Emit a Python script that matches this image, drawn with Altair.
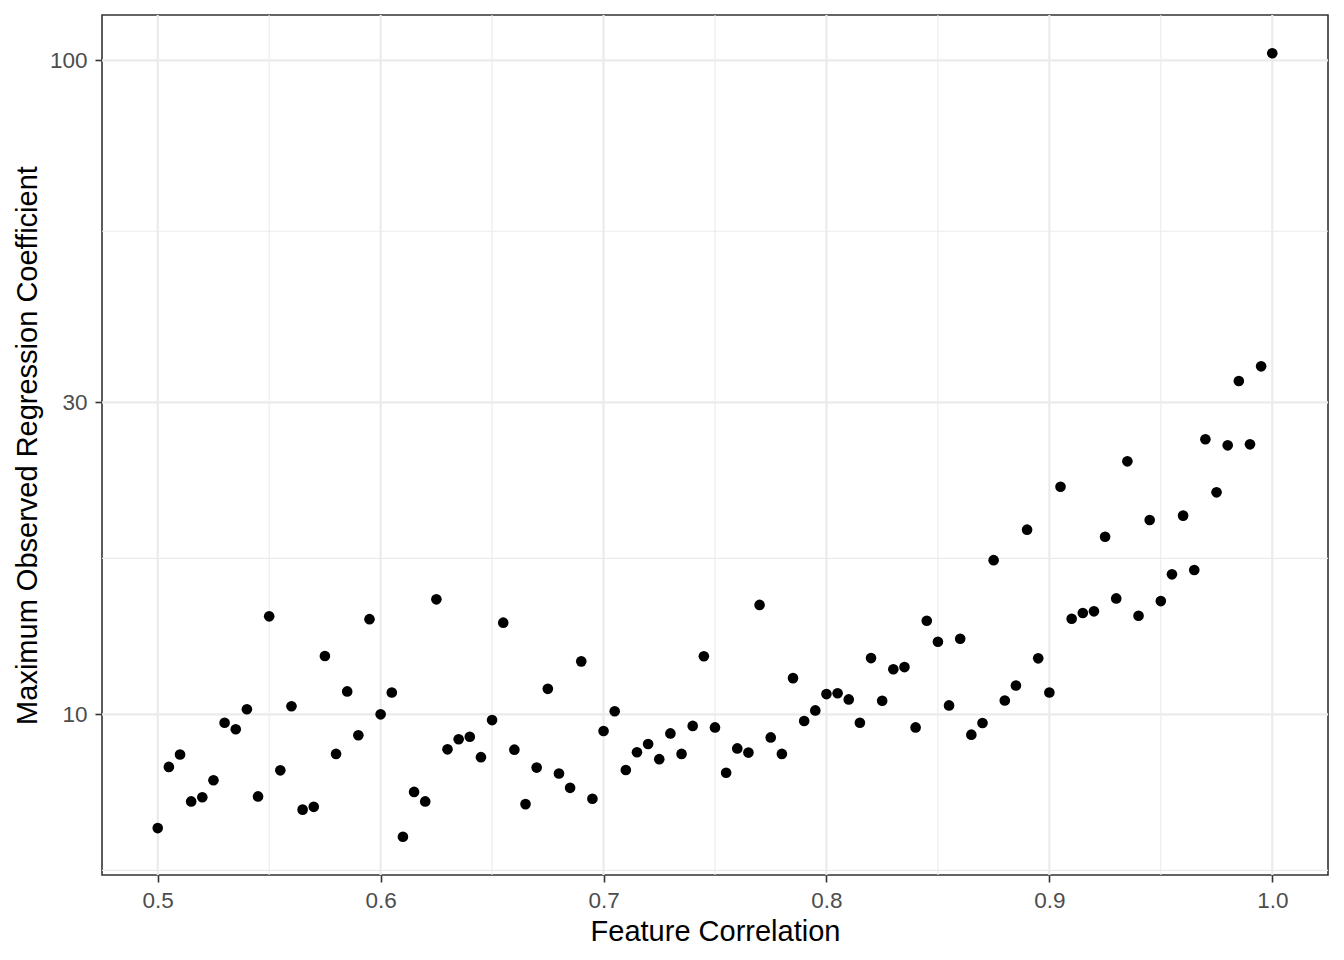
import altair as alt
import pandas as pd

# Feature correlation (x) values
correlation = [
    0.500, 0.505, 0.510, 0.515, 0.520, 0.525, 0.530, 0.535, 0.540, 0.545,
    0.550, 0.555, 0.560, 0.565, 0.570, 0.575, 0.580, 0.585, 0.590, 0.595,
    0.600, 0.605, 0.610, 0.615, 0.620, 0.625, 0.630, 0.635, 0.640, 0.645,
    0.650, 0.655, 0.660, 0.665, 0.670, 0.675, 0.680, 0.685, 0.690, 0.695,
    0.700, 0.705, 0.710, 0.715, 0.720, 0.725, 0.730, 0.735, 0.740, 0.745,
    0.750, 0.755, 0.760, 0.765, 0.770, 0.775, 0.780, 0.785, 0.790, 0.795,
    0.800, 0.805, 0.810, 0.815, 0.820, 0.825, 0.830, 0.835, 0.840, 0.845,
    0.850, 0.855, 0.860, 0.865, 0.870, 0.875, 0.880, 0.885, 0.890, 0.895,
    0.900, 0.905, 0.910, 0.915, 0.920, 0.925, 0.930, 0.935, 0.940, 0.945,
    0.950, 0.955, 0.960, 0.965, 0.970, 0.975, 0.980, 0.985, 0.990, 0.995,
    1.000,
]

# Maximum observed regression coefficient (y) values
max_coef = [
    6.70, 8.31, 8.68, 7.36, 7.47, 7.93, 9.71, 9.49, 10.18, 7.49,
    14.12, 8.21, 10.29, 7.15, 7.22, 12.28, 8.70, 10.84, 9.29, 13.98,
    10.00, 10.80, 6.50, 7.61, 7.36, 14.99, 8.84, 9.16, 9.24, 8.60,
    9.80, 13.81, 8.83, 7.29, 8.29, 10.94, 8.12, 7.72, 12.05, 7.43,
    9.43, 10.11, 8.22, 8.75, 9.01, 8.54, 9.35, 8.70, 9.60, 12.27,
    9.55, 8.14, 8.87, 8.74, 14.70, 9.22, 8.70, 11.36, 9.77, 10.14,
    10.74, 10.77, 10.54, 9.71, 12.19, 10.49, 11.72, 11.81, 9.55, 13.90,
    12.91, 10.32, 13.05, 9.31, 9.70, 17.21, 10.50, 11.07, 19.16, 12.18,
    10.80, 22.28, 14.00, 14.29, 14.37, 18.69, 15.04, 24.37, 14.15, 19.82,
    14.90, 16.37, 20.13, 16.62, 26.34, 21.85, 25.78, 32.33, 25.87, 34.05,
    102.5,
]

x_ticks = [0.5, 0.6, 0.7, 0.8, 0.9, 1.0]
x_minor = [0.55, 0.65, 0.75, 0.85, 0.95]
y_ticks = [10, 30, 100]
y_minor = [5.774, 17.32, 54.77]

FONT = "Liberation Sans"
GRID = "#EBEBEB"

x_scale = alt.Scale(domain=[0.475, 1.025], nice=False, zero=False)
y_scale = alt.Scale(type="log", domain=[5.68, 117.3], nice=False)

x_axis = alt.Axis(
    title="Feature Correlation",
    values=x_ticks,
    format=".1f",
    grid=False,
    domain=False,
    tickColor="#333333",
    tickWidth=1.6,
    tickSize=7,
    labelFont=FONT,
    labelFontSize=22.5,
    labelColor="#4D4D4D",
    labelBaseline="alphabetic",
    labelPadding=25,
    titleFont=FONT,
    titleFontSize=29,
    titleFontWeight="normal",
    titleColor="black",
    titleBaseline="alphabetic",
    titleY=65,
)

y_axis = alt.Axis(
    title="Maximum Observed Regression Coefficient",
    values=y_ticks,
    format="d",
    grid=False,
    domain=False,
    tickColor="#333333",
    tickWidth=1.6,
    tickSize=7,
    labelFont=FONT,
    labelFontSize=22.5,
    labelColor="#4D4D4D",
    labelPadding=8,
    titleFont=FONT,
    titleFontSize=29,
    titleFontWeight="normal",
    titleColor="black",
    titleBaseline="alphabetic",
    titleAngle=270,
    titleX=-66,
)

points_df = pd.DataFrame({"corr": correlation, "coef": max_coef})

vminor = alt.Chart(pd.DataFrame({"corr": x_minor})).mark_rule(
    color=GRID, strokeWidth=1.1
).encode(x=alt.X("corr:Q", scale=x_scale, axis=x_axis))

vmajor = alt.Chart(pd.DataFrame({"corr": x_ticks})).mark_rule(
    color=GRID, strokeWidth=2.2
).encode(x=alt.X("corr:Q", scale=x_scale, axis=x_axis))

hminor = alt.Chart(pd.DataFrame({"coef": y_minor})).mark_rule(
    color=GRID, strokeWidth=1.1
).encode(y=alt.Y("coef:Q", scale=y_scale, axis=y_axis))

hmajor = alt.Chart(pd.DataFrame({"coef": y_ticks})).mark_rule(
    color=GRID, strokeWidth=2.2
).encode(y=alt.Y("coef:Q", scale=y_scale, axis=y_axis))

points = alt.Chart(points_df).mark_circle(
    size=113, color="black", opacity=1
).encode(
    x=alt.X("corr:Q", scale=x_scale, axis=x_axis),
    y=alt.Y("coef:Q", scale=y_scale, axis=y_axis),
)

chart = alt.layer(vminor, vmajor, hminor, hmajor, points).properties(
    width=1226,
    height=860,
    autosize=alt.AutoSizeParams(type="none"),
    padding={"left": 94, "top": 7, "right": 8, "bottom": 80},
    background="white",
).configure_view(stroke="#333333", strokeWidth=1.6)

chart.save("out.html", embed_options={"renderer": "svg", "actions": False})
